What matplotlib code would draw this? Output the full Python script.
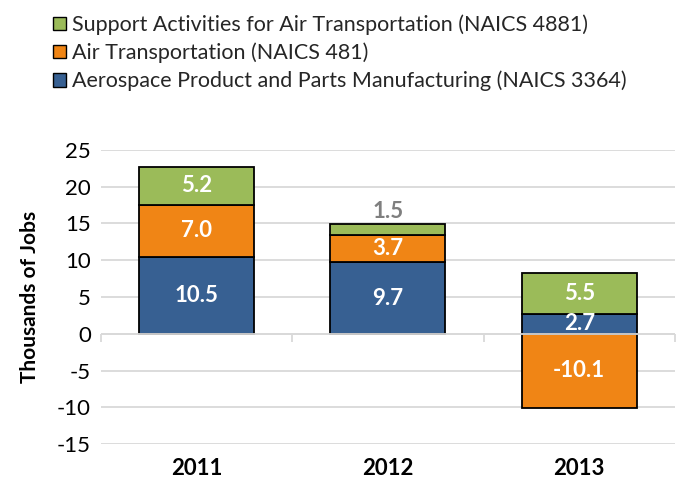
import numpy as np
import matplotlib.pyplot as plt
from matplotlib.patches import Patch

plt.rcParams['font.family'] = ['Lato', 'DejaVu Sans']
plt.rcParams['axes.unicode_minus'] = False

years = ['2011', '2012', '2013']
aerospace = [10.5, 9.7, 2.7]
air_transport = [7.0, 3.7, -10.1]
support = [5.2, 1.5, 5.5]

series = [
    ('Aerospace Product and Parts Manufacturing (NAICS 3364)', aerospace, '#376092'),
    ('Air Transportation (NAICS 481)', air_transport, '#F08515'),
    ('Support Activities for Air Transportation (NAICS 4881)', support, '#9BBB59'),
]

fig = plt.figure(figsize=(6.81, 4.93), dpi=100)
ax = fig.add_axes([0.148, 0.099, 0.843, 0.597])

x = np.arange(len(years))
pos_base = np.zeros(len(years))
neg_base = np.zeros(len(years))
for name, vals, color in series:
    vals = np.array(vals)
    bottoms = np.where(vals >= 0, pos_base, neg_base)
    ax.bar(x, vals, 0.6, bottom=bottoms, color=color, edgecolor='black',
           linewidth=1.3, zorder=3)
    for xi, v, b in zip(x, vals, bottoms):
        if abs(v) < 2:
            # small segment: label above the bar in gray
            ax.text(xi, b + v + 0.3, f'{v:.1f}', ha='center', va='bottom',
                    color='#7F7F7F', fontsize=16, fontweight='bold')
        else:
            ax.text(xi, b + v / 2, f'{v:.1f}', ha='center', va='center',
                    color='white', fontsize=16, fontweight='bold', zorder=4)
    pos_base = pos_base + np.where(vals >= 0, vals, 0)
    neg_base = neg_base + np.where(vals < 0, vals, 0)

ax.set_xlim(-0.5, 2.5)
ax.set_ylim(-15, 25)
ax.set_yticks(np.arange(-15, 26, 5))
ax.grid(axis='y', color='#D9D9D9', linewidth=1.3, zorder=0)
ax.axhline(0, color='#D9D9D9', linewidth=1.3, zorder=5)
ax.vlines([-0.5, 0.5, 1.5, 2.5], -1.1, 0, color='#D9D9D9', linewidth=1.3,
          clip_on=False, zorder=5)

ax.set_xticks(x)
ax.set_xticklabels(years, fontsize=16, fontweight='bold')
ax.tick_params(axis='x', length=0, pad=10)
ax.tick_params(axis='y', length=0, labelsize=16, pad=7)
for s in ax.spines.values():
    s.set_visible(False)
ax.set_ylabel('Thousands of Jobs', fontsize=15, fontweight='bold', labelpad=12)

handles = [Patch(facecolor=c, edgecolor='black', linewidth=1) for _, _, c in series[::-1]]
labels = [n for n, _, _ in series[::-1]]
fig.legend(handles, labels, loc='upper left', bbox_to_anchor=(0.05, 1.01),
           frameon=False, fontsize=15.5, handlelength=0.6, handleheight=0.6,
           handletextpad=0.25, labelspacing=0.35, labelcolor='#262626')

fig.savefig('out.png', dpi=100)
